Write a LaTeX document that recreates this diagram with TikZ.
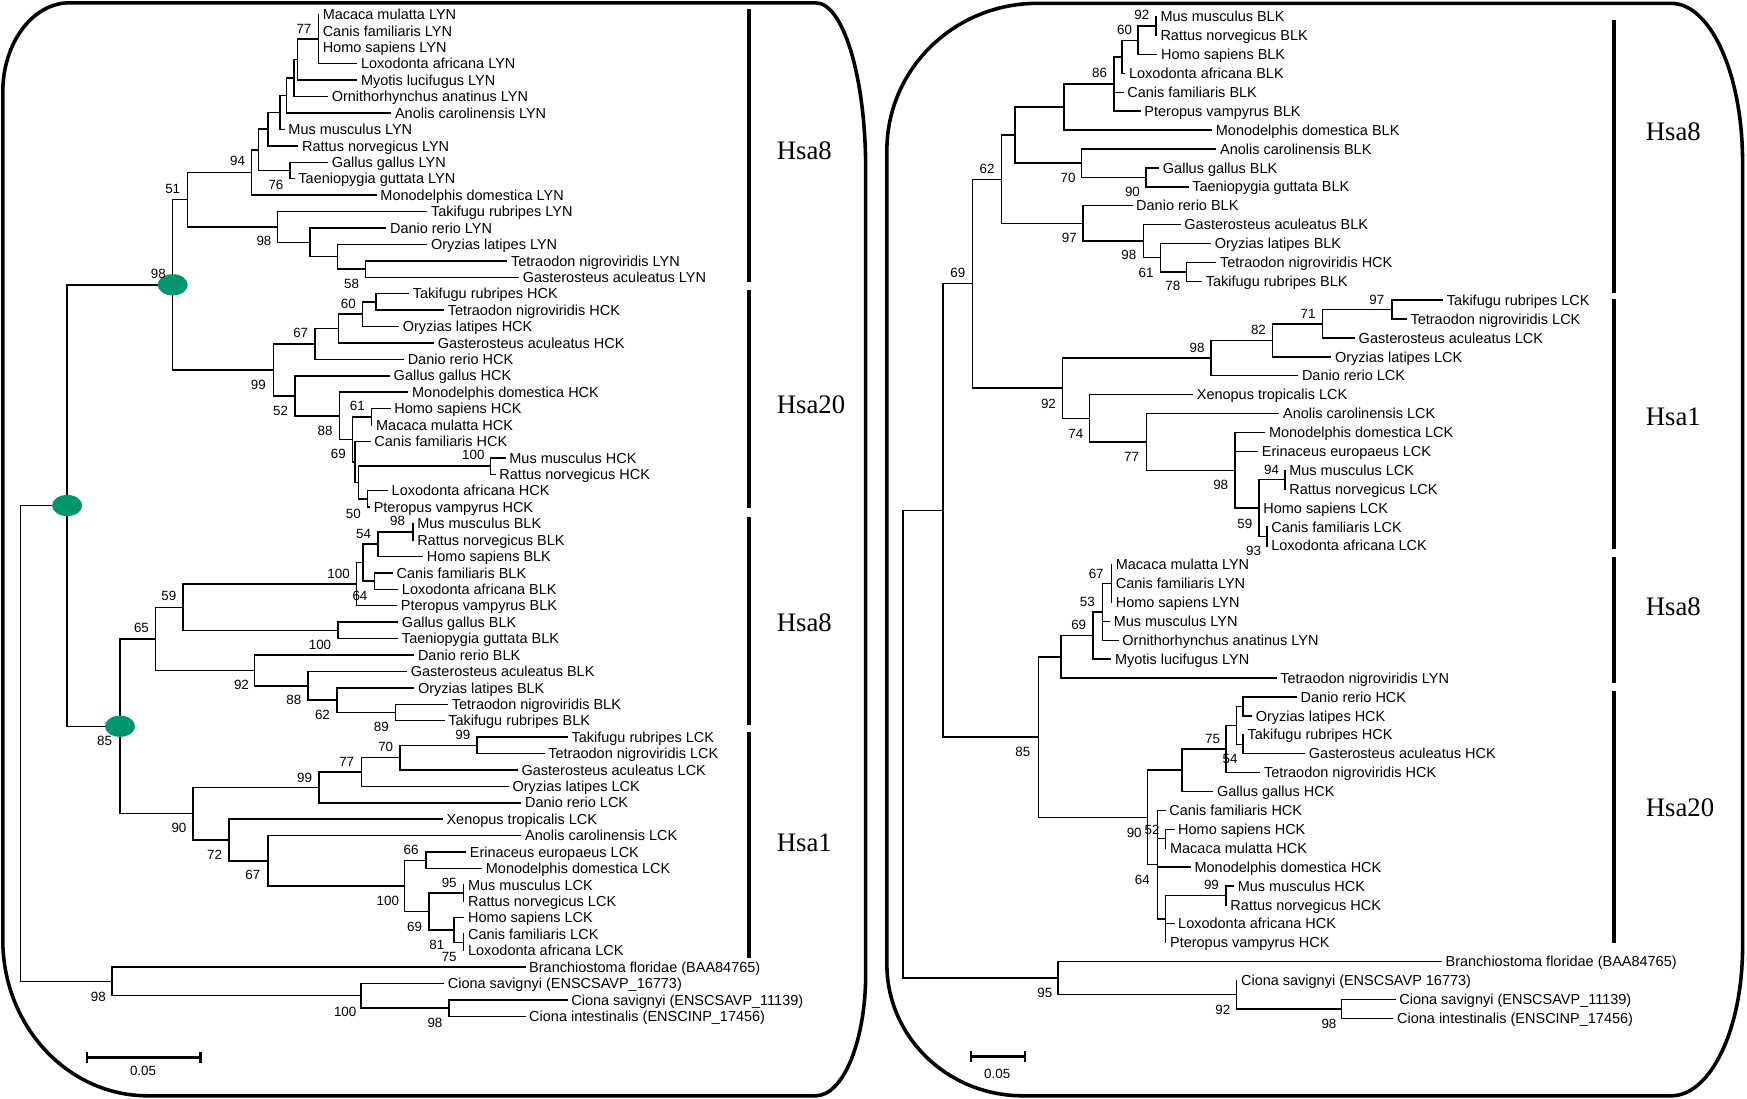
\documentclass[tikz,border=0pt]{standalone}
\usepackage{fontspec}
\setmainfont{Liberation Sans}
\newfontfamily\hsafont{Liberation Serif}
\usetikzlibrary{calc,shapes.geometric}
\definecolor{mgreen}{RGB}{0,150,110}
\tikzset{
  br/.style={line width=1.3pt, line cap=rect},
  taxon/.style={anchor=west, inner sep=0pt, font=\fontsize{13}{13}\selectfont, text height=9.3pt, text depth=0pt},
  bs/.style={inner sep=0pt, font=\fontsize{12}{12}\selectfont, text height=8.6pt, text depth=0pt},
  frameline/.style={line width=3.2pt},
  hsabar/.style={line width=3.6pt},
  hsa/.style={anchor=west, inner sep=0pt, font=\hsafont\fontsize{24}{24}\selectfont},
  gdot/.style={ellipse, fill=mgreen, draw=none, minimum width=27pt, minimum height=19pt, inner sep=0pt},
  sbar/.style={line width=2.2pt}
}
\newcommand\LT[4]{\coordinate (#1) at (#2,{13+(#3-1)*14.74}); \node[taxon] (#1-l) at ([xshift=3.8pt]#1) {#4};}
\newcommand\RT[4]{\coordinate (#1) at (#2,{15+(#3-1)*16.96}); \node[taxon] (#1-l) at ([xshift=3.8pt]#1) {#4};}
\newcommand\IN[4]{%
  \path ($(#3)!0.5!(#4)$) coordinate (#1-m);
  \coordinate (#1-x) at (#2,0);
  \coordinate (#1) at (#1-x |- #1-m);
  \draw[br] (#3) -| (#1);
  \draw[br] (#4) -| (#1);}
\newcommand\MID[2]{\draw[br] (#2) -| (#1);}
\newcommand\BS[4]{\node[bs] (#1) at (#2,#3) {#4};}
\begin{document}
\begin{tikzpicture}[x=1pt,y=-1pt]
\useasboundingbox (0,0) rectangle (1568,986);
% ---------------- frames
\draw[frameline] (62.5,2.5) -- (732,2.5) .. controls (756.9,2.5) and (777,69.3) .. (777,152.5)
  -- (777,873.5) .. controls (777,934.3) and (756.9,983.5) .. (732,983.5)
  -- (132.5,983.5) .. controls (60.7,983.5) and (2.5,920.8) .. (2.5,843.5)
  -- (2.5,82.5) .. controls (2.5,38.3) and (29.4,2.5) .. (62.5,2.5) -- cycle;
\draw[frameline] (931,3) -- (1500,3) .. controls (1535.3,3) and (1564,66.6) .. (1564,145)
  -- (1564,850) .. controls (1564,923.5) and (1535.3,983.5) .. (1500,983.5)
  -- (918,983.5) .. controls (850.6,983.5) and (796,930.7) .. (796,865.5)
  -- (796,135) .. controls (796,62.1) and (856.4,3) .. (931,3) -- cycle;
% ================= LEFT TREE
\LT{L1}{285.7}{1}{Macaca mulatta LYN}
\LT{L2}{285.7}{2}{Canis familiaris LYN}
\LT{L3}{285.7}{3}{Homo sapiens LYN}
\LT{L4}{320.1}{4}{Loxodonta africana LYN}
\LT{L5}{320.1}{5}{Myotis lucifugus LYN}
\LT{L6}{293.8}{6}{Ornithorhynchus anatinus LYN}
\LT{L7}{350.6}{7}{Anolis carolinensis LYN}
\LT{L8}{254.9}{8}{Mus musculus LYN}
\LT{L9}{267.2}{9}{Rattus norvegicus LYN}
\LT{L10}{293.8}{10}{Gallus gallus LYN}
\LT{L11}{263.9}{11}{Taeniopygia guttata LYN}
\LT{L12}{337.5}{12}{Monodelphis domestica LYN}
\LT{L13}{382.9}{13}{Takifugu rubripes LYN}
\LT{L14}{346.1}{14}{Danio rerio LYN}
\LT{L15}{382.9}{15}{Oryzias latipes LYN}
\LT{L16}{454.7}{16}{Tetraodon nigroviridis LYN}
\LT{L17}{465.2}{17}{Gasterosteus aculeatus LYN}
\IN{a77}{285.7}{L1}{L4}\MID{a77}{L2}\MID{a77}{L3}
\IN{aA}{266.9}{a77}{L5}
\IN{aB}{263.9}{aA}{L6}
\IN{aC}{257.3}{aB}{L7}
\IN{aD}{251.3}{aC}{L8}
\IN{aE}{240.5}{aD}{L9}
\IN{a76}{260.3}{L10}{L11}
\IN{aF}{231.9}{aE}{a76}
\IN{a94}{225.9}{aF}{L12}
\IN{a58}{328.2}{L16}{L17}
\IN{aH}{302.8}{L15}{a58}
\IN{aG}{278.2}{L14}{aH}
\IN{a98}{249.2}{L13}{aG}
\IN{a51}{168.4}{a94}{a98}
\LT{L18}{366.5}{18}{Takifugu rubripes HCK}
\LT{L19}{397.9}{19}{Tetraodon nigroviridis HCK}
\LT{L20}{357.5}{20}{Oryzias latipes HCK}
\LT{L21}{388.9}{21}{Gasterosteus aculeatus HCK}
\LT{L22}{362.0}{22}{Danio rerio HCK}
\LT{L23}{349.4}{23}{Gallus gallus HCK}
\LT{L24}{365.9}{24}{Monodelphis domestica HCK}
\LT{L25}{350.0}{25}{Homo sapiens HCK}
\LT{L26}{333.6}{26}{Macaca mulatta HCK}
\LT{L27}{332.1}{27}{Canis familiaris HCK}
\LT{L28}{453.2}{28}{Mus musculus HCK}
\LT{L29}{444.3}{29}{Rattus norvegicus HCK}
\LT{L30}{347.6}{30}{Loxodonta africana HCK}
\LT{L31}{331.5}{31}{Pteropus vampyrus HCK}
\IN{b60}{337.5}{L18}{L19}
\IN{bI}{325.5}{b60}{L20}
\IN{bJ}{303.7}{bI}{L21}
\IN{b67}{282.7}{bJ}{L22}
\IN{b61}{333.6}{L25}{L26}
\IN{b100}{440.4}{L28}{L29}
\IN{b50}{330.0}{L30}{L31}
\IN{bL}{321.6}{b100}{b50}
\IN{bK}{318.6}{L27}{bL}
\IN{b69}{316.5}{b61}{bK}
\IN{b88}{304.6}{L24}{b69}
\IN{b52}{264.8}{L23}{b88}
\IN{b99}{245.3}{b67}{b52}
\IN{top}{155.0}{a51}{b99}
\LT{L32}{370.5}{32}{Mus musculus BLK}
\LT{L33}{370.5}{33}{Rattus norvegicus BLK}
\LT{L34}{379.2}{34}{Homo sapiens BLK}
\LT{L35}{352.0}{35}{Canis familiaris BLK}
\LT{L36}{356.8}{36}{Loxodonta africana BLK}
\LT{L37}{355.8}{37}{Pteropus vampyrus BLK}
\LT{L38}{356.8}{38}{Gallus gallus BLK}
\LT{L39}{356.8}{39}{Taeniopygia guttata BLK}
\LT{L40}{371.2}{40}{Danio rerio BLK}
\LT{L41}{364.8}{41}{Gasterosteus aculeatus BLK}
\LT{L42}{371.2}{42}{Oryzias latipes BLK}
\LT{L43}{401.6}{43}{Tetraodon nigroviridis BLK}
\LT{L44}{398.4}{44}{Takifugu rubripes BLK}
\IN{c98}{370.5}{L32}{L33}
\IN{c54}{339.1}{c98}{L34}
\IN{c64}{335.9}{L35}{L36}
\IN{cM}{325.7}{c54}{c64}
\IN{c100}{319.9}{cM}{L37}
\IN{c100b}{303.2}{L38}{L39}
\IN{c59}{164.4}{c100}{c100b}
\IN{c89}{355.2}{L43}{L44}
\IN{c62}{302.3}{L42}{c89}
\IN{c88}{276.6}{L41}{c62}
\IN{c92}{228.5}{L40}{c88}
\IN{c65}{139.8}{c59}{c92}
\LT{L45}{509.0}{45}{Takifugu rubripes LCK}
\LT{L46}{488.2}{46}{Tetraodon nigroviridis LCK}
\LT{L47}{464.1}{47}{Gasterosteus aculeatus LCK}
\LT{L48}{456.1}{48}{Oryzias latipes LCK}
\LT{L49}{467.3}{49}{Danio rerio LCK}
\LT{L50}{396.8}{50}{Xenopus tropicalis LCK}
\LT{L51}{467.3}{51}{Anolis carolinensis LCK}
\LT{L52}{417.7}{52}{Erinaceus europaeus LCK}
\LT{L53}{432.1}{53}{Monodelphis domestica LCK}
\LT{L54}{416.1}{54}{Mus musculus LCK}
\LT{L55}{416.1}{55}{Rattus norvegicus LCK}
\LT{L56}{416.1}{56}{Homo sapiens LCK}
\LT{L57}{416.1}{57}{Canis familiaris LCK}
\LT{L58}{416.1}{58}{Loxodonta africana LCK}
\IN{d99}{428.2}{L45}{L46}
\IN{d70}{359.0}{d99}{L47}
\IN{d77}{324.7}{d70}{L48}
\IN{d99b}{286.2}{d77}{L49}
\IN{d66}{382.4}{L52}{L53}
\IN{d95}{416.1}{L54}{L55}
\IN{d81}{416.1}{L57}{L58}
\IN{dN}{407.4}{L56}{d81}
\IN{d69}{385.0}{d95}{dN}
\IN{d100}{363.2}{d66}{d69}
\IN{d67}{240.7}{L51}{d100}
\IN{d72}{205.5}{L50}{d67}
\IN{d90}{173.1}{d99b}{d72}
\IN{mid85}{107.7}{c65}{d90}
\IN{inroot}{60.3}{top}{mid85}
\LT{L59}{471.0}{59}{Branchiostoma floridae (BAA84765)}
\LT{L60}{398.0}{60}{Ciona savignyi (ENSCSAVP\_16773)}
\LT{L61}{508.8}{61}{Ciona savignyi (ENSCSAVP\_11139)}
\LT{L62}{471.0}{62}{Ciona intestinalis (ENSCINP\_17456)}
\IN{e98}{403.0}{L61}{L62}
\IN{e100}{323.9}{L60}{e98}
\IN{e98b}{100.7}{L59}{e100}
\IN{lroot}{18.6}{inroot}{e98b}
\node[gdot] (g1) at (top) {};
\node[gdot] (g2) at (inroot) {};
\node[gdot] (g3) at (mid85) {};
% bootstrap left
\BS{s1}{272.8}{25.4}{77}
\BS{s2}{213.3}{144.5}{94}
\BS{s3}{247.7}{165.4}{76}
\BS{s4}{155}{169}{51}
\BS{s5}{236.9}{216}{98}
\BS{s6}{315.6}{254.3}{58}
\BS{s7}{142.1}{245.3}{98}
\BS{s8}{312.6}{272.2}{60}
\BS{s9}{269.9}{298.6}{67}
\BS{s10}{231.9}{345}{99}
\BS{s11}{251.9}{368.6}{52}
\BS{s12}{320.7}{364.4}{61}
\BS{s13}{291.7}{386.5}{88}
\BS{s14}{303.7}{406.9}{69}
\BS{s15}{424.8}{408.4}{100}
\BS{s16}{317.1}{460.7}{50}
\BS{s17}{356.8}{467.3}{98}
\BS{s18}{326.3}{478.7}{54}
\BS{s19}{303.9}{514.6}{100}
\BS{s20}{323.1}{534.9}{64}
\BS{s21}{151.6}{534.9}{59}
\BS{s22}{127.0}{563}{65}
\BS{s23}{287.2}{578.9}{100}
\BS{s24}{216.7}{614.8}{92}
\BS{s25}{263.8}{628.3}{88}
\BS{s26}{289.4}{641.7}{62}
\BS{s27}{342.3}{652.2}{89}
\BS{s28}{93.9}{664.7}{85}
\BS{s29}{415.4}{659.7}{99}
\BS{s30}{346.2}{670.1}{70}
\BS{s31}{311.2}{683.6}{77}
\BS{s32}{273.4}{697.7}{99}
\BS{s33}{160.6}{742.8}{90}
\BS{s34}{192.6}{767.4}{72}
\BS{s35}{227.0}{785.3}{67}
\BS{s36}{369.0}{762.3}{66}
\BS{s37}{403.2}{792.2}{95}
\BS{s38}{348.1}{808.7}{100}
\BS{s39}{372.1}{831.7}{69}
\BS{s40}{392.0}{848.1}{81}
\BS{s41}{403.2}{858.6}{75}
\BS{s42}{88.2}{895}{98}
\BS{s43}{309.8}{908}{100}
\BS{s44}{390.4}{917.5}{98}
% scale bar left
\coordinate (sl1) at (78.1,949); \coordinate (sl2) at (179.8,949);
\draw[sbar] (sl1) -- (sl2);
\draw[sbar] ([yshift=5pt]sl1) -- ([yshift=-5pt]sl1);
\draw[sbar] ([yshift=5pt]sl2) -- ([yshift=-5pt]sl2);
\node[bs] (sll) at (128.4,961) {0.05};
% Hsa bars left
\coordinate (hl1a) at (672,8);   \coordinate (hl1b) at (672,253);
\coordinate (hl2a) at (672,260); \coordinate (hl2b) at (672,456);
\coordinate (hl3a) at (672,464); \coordinate (hl3b) at (672,651);
\coordinate (hl4a) at (672,657); \coordinate (hl4b) at (672,860);
\draw[hsabar] (hl1a) -- (hl1b); \draw[hsabar] (hl2a) -- (hl2b);
\draw[hsabar] (hl3a) -- (hl3b); \draw[hsabar] (hl4a) -- (hl4b);
\node[hsa] (hs1) at (697,135) {Hsa8};
\node[hsa] (hs2) at (697,363) {Hsa20};
\node[hsa] (hs3) at (697,559) {Hsa8};
\node[hsa] (hs4) at (697,756) {Hsa1};
% ================= RIGHT TREE
\RT{R1}{1037.6}{1}{Mus musculus BLK}
\RT{R2}{1037.6}{2}{Rattus norvegicus BLK}
\RT{R3}{1038.2}{3}{Homo sapiens BLK}
\RT{R4}{1009.4}{4}{Loxodonta africana BLK}
\RT{R5}{1007.8}{5}{Canis familiaris BLK}
\RT{R6}{1023.2}{6}{Pteropus vampyrus BLK}
\RT{R7}{1087.3}{7}{Monodelphis domestica BLK}
\RT{R8}{1091.1}{8}{Anolis carolinensis BLK}
\RT{R9}{1039.8}{9}{Gallus gallus BLK}
\RT{R10}{1066.1}{10}{Taeniopygia guttata BLK}
\RT{R11}{1015.8}{11}{Danio rerio BLK}
\RT{R12}{1059.1}{12}{Gasterosteus aculeatus BLK}
\RT{R13}{1086.3}{13}{Oryzias latipes BLK}
\RT{R14}{1091.1}{14}{Tetraodon nigroviridis HCK}
\RT{R15}{1078.3}{15}{Takifugu rubripes BLK}
\IN{f92}{1037.6}{R1}{R2}
\IN{f60}{1021.5}{f92}{R3}
\IN{fO}{1007.1}{f60}{R4}
\IN{f86}{999.8}{fO}{R6}\MID{f86}{R5}
\IN{fP}{954.9}{f86}{R7}
\IN{f90}{1028.6}{R9}{R10}
\IN{f70}{970.9}{R8}{f90}
\IN{fQ}{911.0}{fP}{f70}
\IN{f78}{1064.8}{R14}{R15}
\IN{f61}{1041.4}{R13}{f78}
\IN{f98}{1026.4}{R12}{f61}
\IN{f97}{971.9}{R11}{f98}
\IN{f62}{898.8}{fQ}{f97}
\RT{R16}{1294.7}{16}{Takifugu rubripes LCK}
\RT{R17}{1262.0}{17}{Tetraodon nigroviridis LCK}
\RT{R18}{1215.5}{18}{Gasterosteus aculeatus LCK}
\RT{R19}{1194.3}{19}{Oryzias latipes LCK}
\RT{R20}{1164.6}{20}{Danio rerio LCK}
\RT{R21}{1070.2}{21}{Xenopus tropicalis LCK}
\RT{R22}{1147.7}{22}{Anolis carolinensis LCK}
\RT{R23}{1135.0}{23}{Monodelphis domestica LCK}
\RT{R24}{1128.6}{24}{Erinaceus europaeus LCK}
\RT{R25}{1153.2}{25}{Mus musculus LCK}
\RT{R26}{1153.2}{26}{Rattus norvegicus LCK}
\RT{R27}{1129.9}{27}{Homo sapiens LCK}
\RT{R28}{1137.1}{28}{Canis familiaris LCK}
\RT{R29}{1137.1}{29}{Loxodonta africana LCK}
\IN{g97}{1249.4}{R16}{R17}
\IN{g71}{1187.1}{g97}{R18}
\IN{g82}{1142.2}{g71}{R19}
\IN{g98}{1087.1}{g82}{R20}
\IN{g94}{1153.2}{R25}{R26}
\IN{g93}{1137.1}{R28}{R29}
\IN{gS}{1129.9}{g94}{g93}\MID{gS}{R27}
\IN{g98b}{1108.3}{R23}{gS}\MID{g98b}{R24}
\IN{g77}{1029.1}{R22}{g98b}
\IN{g74}{977.9}{R21}{g77}
\IN{g92}{953.7}{g98}{g74}
\IN{g69}{872.8}{f62}{g92}
\RT{R30}{997.5}{30}{Macaca mulatta LYN}
\RT{R31}{997.5}{31}{Canis familiaris LYN}
\RT{R32}{997.5}{32}{Homo sapiens LYN}
\RT{R33}{995.7}{33}{Mus musculus LYN}
\RT{R34}{1003.4}{34}{Ornithorhynchus anatinus LYN}
\RT{R35}{996.8}{35}{Myotis lucifugus LYN}
\RT{R36}{1145.1}{36}{Tetraodon nigroviridis LYN}
\IN{h67}{997.5}{R30}{R32}\MID{h67}{R31}
\IN{h53}{989.4}{h67}{R34}\MID{h53}{R33}
\IN{h69}{981.0}{h53}{R35}
\IN{hV}{952.1}{h69}{R36}
\RT{R37}{1163.4}{37}{Danio rerio HCK}
\RT{R38}{1123.1}{38}{Oryzias latipes HCK}
\RT{R39}{1115.8}{39}{Takifugu rubripes HCK}
\RT{R40}{1170.8}{40}{Gasterosteus aculeatus HCK}
\RT{R41}{1130.5}{41}{Tetraodon nigroviridis HCK}
\RT{R42}{1088.3}{42}{Gallus gallus HCK}
\RT{R43}{1045.5}{43}{Canis familiaris HCK}
\RT{R44}{1053.5}{44}{Homo sapiens HCK}
\RT{R45}{1046.2}{45}{Macaca mulatta HCK}
\RT{R46}{1068.2}{46}{Monodelphis domestica HCK}
\RT{R47}{1107.0}{47}{Mus musculus HCK}
\RT{R48}{1100.4}{48}{Rattus norvegicus HCK}
\RT{R49}{1053.5}{49}{Loxodonta africana HCK}
\RT{R50}{1046.2}{50}{Pteropus vampyrus HCK}
\IN{iW}{1115.8}{R37}{R38}
\IN{iY}{1115.8}{R39}{R40}
\IN{iX}{1109.6}{iW}{iY}
\IN{i75}{1100.4}{iX}{R41}
\IN{iZ}{1060.9}{i75}{R42}
\IN{iHM}{1046.2}{R44}{R45}
\IN{i99}{1100.4}{R47}{R48}
\IN{iAA}{1046.2}{i99}{R50}\MID{iAA}{R49}
\IN{i64}{1038.9}{R43}{iAA}\MID{i64}{iHM}\MID{i64}{R46}
\IN{i90}{1029.7}{iZ}{i64}
\IN{iU}{931.9}{hV}{i90}
\IN{iT}{846.4}{g69}{iU}
\RT{R51}{1293.5}{51}{Branchiostoma floridae (BAA84765)}
\RT{R52}{1109.9}{52}{Ciona savignyi (ENSCSAVP 16773)}
\RT{R53}{1252.0}{53}{Ciona savignyi (ENSCSAVP\_11139)}
\RT{R54}{1250.0}{54}{Ciona intestinalis (ENSCINP\_17456)}
\IN{j98}{1204.2}{R53}{R54}
\IN{j92}{1109.9}{R52}{j98}
\IN{j95}{949.6}{R51}{j92}
\IN{rroot}{810.6}{iT}{j95}
% bootstrap right
\BS{t1}{1024.8}{13.5}{92}
\BS{t2}{1009.4}{26.9}{60}
\BS{t3}{986.9}{65.2}{86}
\BS{t4}{886.0}{151.1}{62}
\BS{t5}{958.7}{159.5}{70}
\BS{t6}{1016.4}{172}{90}
\BS{t7}{959.7}{213}{97}
\BS{t8}{1013.2}{228.9}{98}
\BS{t9}{1028.6}{244.7}{61}
\BS{t10}{1052.6}{256.7}{78}
\BS{t11}{859.7}{244.7}{69}
\BS{t12}{1235.8}{268.6}{97}
\BS{t13}{1174.0}{281.2}{71}
\BS{t14}{1129.5}{296.2}{82}
\BS{t15}{1074.4}{311.7}{98}
\BS{t16}{941.0}{362.0}{92}
\BS{t17}{965.6}{388.9}{74}
\BS{t18}{1015.6}{409.8}{77}
\BS{t19}{1095.6}{435.3}{98}
\BS{t20}{1141.3}{421.2}{94}
\BS{t21}{1117.2}{469.7}{59}
\BS{t22}{1125.2}{494.5}{93}
\BS{t23}{983.9}{514.6}{67}
\BS{t24}{975.9}{540}{53}
\BS{t25}{968.2}{561}{69}
\BS{t26}{1088.3}{662.7}{75}
\BS{t27}{1104.1}{681.2}{54}
\BS{t28}{918.0}{674.6}{85}
\BS{t29}{1018.0}{747.3}{90}
\BS{t30}{1034.1}{744.3}{52}
\BS{t31}{1025.3}{789.8}{64}
\BS{t32}{1087.3}{794.3}{99}
\BS{t33}{937.7}{891}{95}
\BS{t34}{1097.5}{906.5}{92}
\BS{t35}{1192.8}{918.5}{98}
% scale bar right
\coordinate (sr1) at (871.7,948.4); \coordinate (sr2) at (919.8,948.4);
\draw[sbar] (sr1) -- (sr2);
\draw[sbar] ([yshift=5pt]sr1) -- ([yshift=-5pt]sr1);
\draw[sbar] ([yshift=5pt]sr2) -- ([yshift=-5pt]sr2);
\node[bs] (srl) at (895,964) {0.05};
% Hsa bars right
\coordinate (hr1a) at (1449,18);  \coordinate (hr1b) at (1449,263);
\coordinate (hr2a) at (1449,268); \coordinate (hr2b) at (1449,493);
\coordinate (hr3a) at (1449,500); \coordinate (hr3b) at (1449,613);
\coordinate (hr4a) at (1449,620); \coordinate (hr4b) at (1449,846);
\draw[hsabar] (hr1a) -- (hr1b); \draw[hsabar] (hr2a) -- (hr2b);
\draw[hsabar] (hr3a) -- (hr3b); \draw[hsabar] (hr4a) -- (hr4b);
\node[hsa] (hs5) at (1477,118) {Hsa8};
\node[hsa] (hs6) at (1477,374) {Hsa1};
\node[hsa] (hs7) at (1477,545) {Hsa8};
\node[hsa] (hs8) at (1477,725) {Hsa20};
\end{tikzpicture}
\end{document}
